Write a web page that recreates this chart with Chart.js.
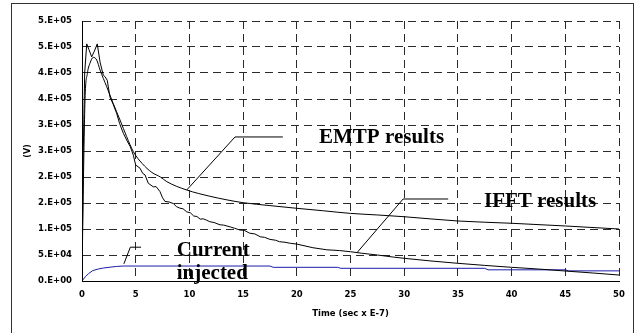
<!DOCTYPE html>
<html>
<head>
<meta charset="utf-8">
<script src="https://cdn.jsdelivr.net/npm/chart.js@4/dist/chart.umd.min.js"></script>
<style>
html,body{margin:0;padding:0;background:#fff;}
#c{display:block;}
</style>
</head>
<body>
<canvas id="c" width="635" height="333"></canvas>
<script>
// ---- data (time in sec x E-7, values in V) ----
const emtpTime  = [0, 0.1, 0.28, 0.5, 0.74, 1.05, 1.37, 1.68, 2.3, 2.9, 3.54, 4.16, 4.78, 5.6, 6.49, 7.3, 7.9, 9.75, 11.9, 13.5, 15, 17.5, 20, 22.5, 25, 27.5, 30, 35, 40, 45, 50];
const emtpVolts = [0, 150000, 348000, 399000, 418600, 430000, 425000, 405800, 373600, 341700, 309600, 277500, 248700, 226000, 209000, 200000, 191000, 175000, 163000, 156000, 150600, 145000, 139800, 135000, 130000, 127000, 123600, 115400, 111000, 105800, 100000];

const ifftTime  = [0, 0.12, 0.25, 0.44, 0.65, 0.9, 1.15, 1.42, 1.68, 1.98, 2.14, 2.35, 2.6, 2.9, 3.23, 3.5, 3.85, 4.16, 4.5, 4.78, 5.0, 5.4, 5.65, 5.87, 6.17, 6.64, 6.9, 7.26, 7.5, 7.73, 8.1, 8.5, 8.8, 9.12, 9.4, 9.75, 10.1, 10.4, 10.7, 11.0, 11.3, 11.6, 11.9, 12.3, 12.85, 13.2, 13.8, 14.2, 14.7, 15.1, 15.6, 16.1, 16.6, 17.0, 17.5, 18.0, 18.4, 18.9, 19.4, 20, 21.5, 22.8, 24, 25, 26, 27.5, 29, 30, 32.5, 35, 37.5, 40, 42.5, 45, 47.5, 50];
const ifftVolts = [0, 250000, 400000, 456000, 445000, 431000, 442000, 456000, 421000, 396000, 393000, 386000, 354000, 340000, 322000, 303000, 284000, 271000, 258000, 242000, 223000, 217000, 207000, 204000, 188000, 181000, 181500, 172000, 160000, 153000, 152000, 149000, 143000, 140000, 139000, 133000, 131000, 125000, 124000, 119000, 119500, 117000, 114000, 112500, 108000, 107500, 104000, 101500, 98000, 97500, 92000, 90500, 85000, 84000, 80000, 78500, 75500, 74500, 72500, 71000, 64000, 60000, 58500, 56300, 53500, 50000, 46000, 43600, 38500, 34000, 30000, 26300, 23000, 19200, 15500, 11500];

const currentTime  = [0, 0.3, 0.6, 1.0, 1.5, 2.0, 2.6, 3.2, 3.85, 17.5, 17.8, 23.8, 24.1, 37.5, 37.8, 45, 45.3, 50];
const currentVolts = [0, 8000, 14000, 20000, 23000, 25000, 26500, 28000, 28800, 28800, 26300, 26300, 24400, 24400, 21500, 21500, 19500, 19500];

const xTickValues = [0, 5, 10, 15, 20, 25, 30, 35, 40, 45, 50];
const yTickValues = [0, 50000, 100000, 150000, 200000, 250000, 300000, 350000, 400000, 450000, 500000];
const yTickLabels = ['0.E+00', '5.E+04', '1.E+05', '2.E+05', '2.E+05', '3.E+05', '3.E+05', '4.E+05', '4.E+05', '5.E+05', '5.E+05'];

// ---- annotations (labels with leader lines, in data coordinates) ----
const notes = [
  { lines: ['EMTP results'], at: [22.07, 264800], leader: [[9.75, 175000], [14.25, 277000], [18.7, 277000]] },
  { lines: ['IFFT results'], at: [37.43, 142900], leader: [[25.6, 54400], [29.9, 157700], [34.1, 157700]] },
  { lines: ['Current', 'injected'], at: [8.82, 49000], leader: [[3.9, 33000], [4.5, 65000], [5.5, 65000]] }
];

function pts(t, v) { return t.map((x, i) => ({ x: x, y: v[i] })); }

const tickFont = { family: 'DejaVu Sans', weight: 'bold', size: 8.5 };

const frame = {
  id: 'frame',
  beforeDraw(chart) {
    const c = chart.ctx;
    c.save();
    c.fillStyle = '#fff';
    c.fillRect(0, 0, chart.width, chart.height);
    c.strokeStyle = '#333';
    c.lineWidth = 1;
    c.strokeRect(11.5, 3.5, 622, 340);
    c.restore();
  }
};

const notesPlugin = {
  id: 'notes',
  afterDatasetsDraw(chart) {
    const c = chart.ctx, xs = chart.scales.x, ys = chart.scales.y;
    c.save();
    c.strokeStyle = '#000';
    c.lineWidth = 1;
    c.fillStyle = '#000';
    c.font = 'bold 21px "Liberation Serif"';
    c.textBaseline = 'alphabetic';
    c.textAlign = 'left';
    notes.forEach(n => {
      c.beginPath();
      n.leader.forEach((p, i) => {
        const px = xs.getPixelForValue(p[0]), py = ys.getPixelForValue(p[1]);
        if (i === 0) c.moveTo(px, py); else c.lineTo(px, py);
      });
      c.stroke();
      const tx = xs.getPixelForValue(n.at[0]);
      let ty = ys.getPixelForValue(n.at[1]);
      n.lines.forEach((s, k) => { c.fillText(s, tx, ty + k * 23.5); });
    });
    c.restore();
  }
};

new Chart(document.getElementById('c').getContext('2d'), {
  type: 'line',
  data: {
    datasets: [
      { label: 'EMTP results', data: pts(emtpTime, emtpVolts), borderColor: '#000', borderWidth: 1, pointRadius: 0, fill: false, cubicInterpolationMode: 'monotone' },
      { label: 'IFFT results', data: pts(ifftTime, ifftVolts), borderColor: '#000', borderWidth: 1, pointRadius: 0, fill: false, tension: 0 },
      { label: 'Current injected', data: pts(currentTime, currentVolts), borderColor: '#1c1ca8', borderWidth: 1, pointRadius: 0, fill: false, tension: 0 }
    ]
  },
  options: {
    responsive: false,
    animation: false,
    devicePixelRatio: 1,
    parsing: false,
    layout: { padding: { left: 0, right: 16, top: 21, bottom: 0 } },
    plugins: { legend: { display: false }, tooltip: { enabled: false } },
    scales: {
      x: {
        type: 'linear', min: 0, max: 50,
        afterBuildTicks(s) { s.ticks = xTickValues.map(v => ({ value: v })); },
        afterFit(s) { s.height = 52; },
        ticks: { font: tickFont, color: '#000', padding: 9, maxRotation: 0, autoSkip: false, callback: v => String(v) },
        grid: { color: '#2a2a2a', lineWidth: 1, drawTicks: false },
        border: { display: true, color: '#000', width: 1, dash: [8, 5] },
        title: { display: true, text: 'Time (sec x E-7)', color: '#000', font: tickFont, padding: { top: 0, bottom: 14 } }
      },
      y: {
        type: 'linear', min: 0, max: 500000,
        afterBuildTicks(s) { s.ticks = yTickValues.map(v => ({ value: v })); },
        afterFit(s) { s.width = 82; },
        ticks: { font: tickFont, color: '#000', padding: 10, autoSkip: false, callback: v => yTickLabels[yTickValues.indexOf(v)] },
        grid: { color: '#2a2a2a', lineWidth: 1, drawTicks: false },
        border: { display: true, color: '#000', width: 1, dash: [8, 5] },
        title: { display: true, text: '(V)', color: '#000', font: { family: 'DejaVu Sans', weight: 'bold', size: 8 }, padding: { top: 23, bottom: 0 } }
      }
    }
  },
  plugins: [frame, notesPlugin]
});
</script>
</body>
</html>
